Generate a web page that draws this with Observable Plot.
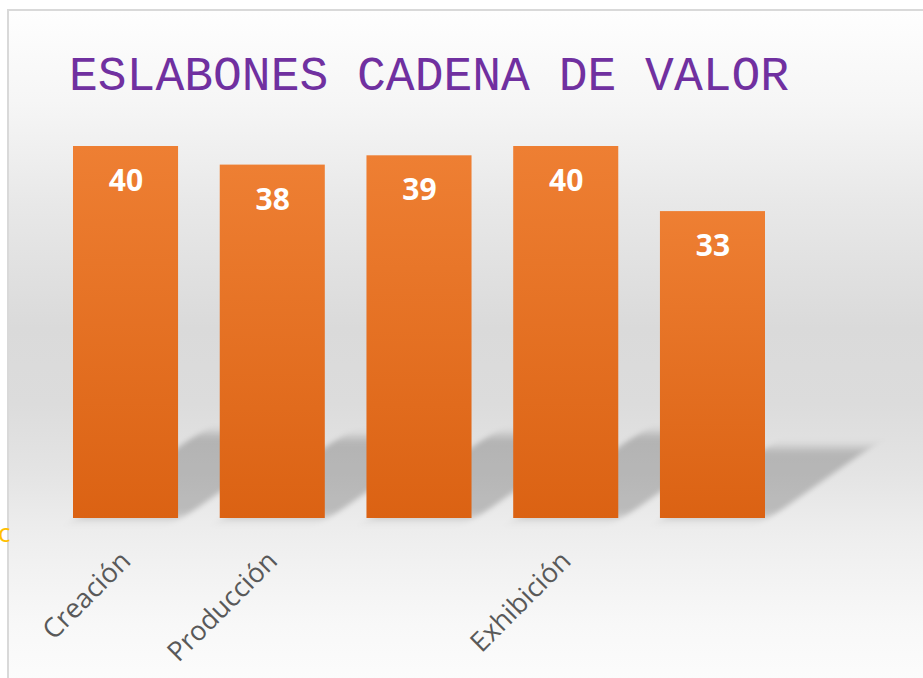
<!DOCTYPE html>
<html>
<head>
<meta charset="utf-8">
<script src="https://cdn.jsdelivr.net/npm/d3@7"></script>
<script src="https://cdn.jsdelivr.net/npm/@observablehq/plot@0.6"></script>
<style>
  html, body { margin: 0; padding: 0; background: #fff; }
  #wrap { position: relative; width: 923px; height: 678px; overflow: hidden; background: #fff; }
  #frame {
    position: absolute; left: 7px; top: 9px; width: 940px; height: 690px;
    border-left: 2px solid #d9d9d9; border-top: 2px solid #d9d9d9;
    background: linear-gradient(to bottom,
      #fefefe 0%, #f6f6f6 13%, #e8e8e8 28%, #dadada 46%, #dcdcdc 57%,
      #e4e4e4 67%, #eeeeee 76%, #f8f8f8 89%, #fdfdfd 100%);
  }
  #title {
    position: absolute; left: 69px; top: 53px; margin: 0;
    font-family: "Liberation Mono", "Courier New", monospace; font-weight: normal;
    font-size: 48px; line-height: 48px; color: #7030A0; white-space: nowrap;
  }
  #stray {
    position: absolute; left: -2px; top: 519px;
    font-family: "Open Sans", sans-serif; font-size: 26px; line-height: 26px; color: #FFC000;
  }
  #chart { position: absolute; left: 0; top: 0; }
</style>
</head>
<body>
<div id="wrap">
  <div id="frame"></div>
  <div id="stray">c</div>
  <div id="title">ESLABONES CADENA DE VALOR</div>
  <div id="chart"></div>
</div>
<script>
const categories = ["Creación", "Producción", "", "Exhibición", ""];
const values = [40, 38, 39, 40, 33];

const keys = categories.map((_, i) => i);
const data = keys.map(i => ({k: i, v: values[i]}));

const svg = Plot.plot({
  width: 923,
  height: 678,
  marginLeft: 73,
  marginRight: 158,
  marginTop: 146,
  marginBottom: 160,
  style: {background: "transparent", overflow: "visible", fontFamily: "Open Sans", fontSize: "27px", color: "#595959"},
  x: {type: "band", domain: keys, paddingInner: 0.284, paddingOuter: 0, round: false,
      tickFormat: i => categories[i], tickRotate: -45, tickSize: 0, tickPadding: 38, label: null},
  y: {domain: [0, 40], axis: null},
  marks: [
    Plot.barY(data, {x: "k", y: d => d.v * 0.23, fill: "#000", fillOpacity: 0.2}),
    Plot.barY(data, {x: "k", y: "v", fill: "#ED7D31"}),
    Plot.text(data, {x: "k", y: "v", text: d => String(d.v), dy: 35, fill: "white",
      fontWeight: "bold", fontSize: 30, fontFamily: "Open Sans"})
  ]
});

// defs: gradient for bars, blur for the shadow
const ns = "http://www.w3.org/2000/svg";
const defs = document.createElementNS(ns, "defs");
defs.innerHTML = `
  <linearGradient id="barGrad" x1="0" y1="0" x2="0" y2="1">
    <stop offset="0" stop-color="#EE7F33"/>
    <stop offset="1" stop-color="#DB6213"/>
  </linearGradient>
  <filter id="shadowBlur" x="-30%" y="-30%" width="160%" height="160%">
    <feGaussianBlur stdDeviation="5"/>
  </filter>`;
svg.insertBefore(defs, svg.firstChild);

const y0 = svg.scale("y").apply(0);
const groups = svg.querySelectorAll('g[aria-label="bar"]');
const k = 1.42, off = 5;
groups[0].setAttribute("transform", `matrix(1 0 ${-k} 1 ${k * y0 + off} 0)`);
groups[0].setAttribute("filter", "url(#shadowBlur)");
groups[1].setAttribute("fill", "url(#barGrad)");

document.getElementById("chart").appendChild(svg);
</script>
</body>
</html>
